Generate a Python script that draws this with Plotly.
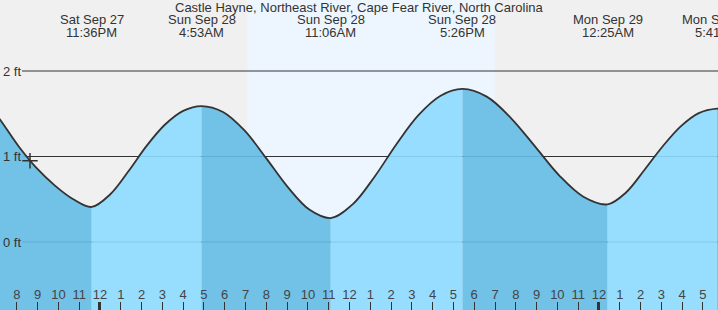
import plotly.graph_objects as go
import pandas as pd

title = "Castle Hayne, Northeast River, Cape Fear River, North Carolina"

# Tide heights (ft) at sample times along the curve
sample_times = [
    "2025-09-27 18:19", "2025-09-27 19:12", "2025-09-27 20:05", "2025-09-27 20:58",
    "2025-09-27 21:50", "2025-09-27 22:43",
    "2025-09-28 00:29", "2025-09-28 01:22", "2025-09-28 02:14", "2025-09-28 03:07",
    "2025-09-28 04:00",
    "2025-09-28 05:55", "2025-09-28 06:57", "2025-09-28 07:59", "2025-09-28 09:02",
    "2025-09-28 10:04",
    "2025-09-28 12:09", "2025-09-28 13:13", "2025-09-28 14:16", "2025-09-28 15:19",
    "2025-09-28 16:23",
    "2025-09-28 18:36", "2025-09-28 19:46", "2025-09-28 20:56", "2025-09-28 22:05",
    "2025-09-28 23:15",
    "2025-09-29 01:18", "2025-09-29 02:10", "2025-09-29 03:03", "2025-09-29 03:56",
    "2025-09-29 04:48",
    "2025-09-29 06:34",
]
sample_heights = [
    1.72, 1.43, 1.12, 0.86,
    0.66, 0.50,
    0.556, 0.827, 1.121, 1.371,
    1.534,
    1.521, 1.305, 0.984, 0.642,
    0.379,
    0.44, 0.767, 1.147, 1.484,
    1.711,
    1.70, 1.45, 1.115, 0.78,
    0.53,
    0.579, 0.836, 1.114, 1.352,
    1.507,
    1.545,
]

# High / low tides
extreme_times = ["2025-09-27 23:36", "2025-09-28 04:53", "2025-09-28 11:06",
                 "2025-09-28 17:26", "2025-09-29 00:25", "2025-09-29 05:41"]
extreme_heights = [0.41, 1.59, 0.28, 1.79, 0.44, 1.56]
extreme_days = ["Sat Sep 27", "Sun Sep 28", "Sun Sep 28", "Sun Sep 28", "Mon Sep 29", "Mon Sep 29"]
extreme_clock = ["11:36PM", "4:53AM", "11:06AM", "5:26PM", "12:25AM", "5:41AM"]
segment_falling = [True, False, True, False, True, False, True]

sunrise = "2025-09-28 07:05"
sunset = "2025-09-28 18:59"
now_time = "2025-09-27 20:38"
now_height = 0.95

tick_times = list(pd.date_range("2025-09-27 20:00", "2025-09-29 05:00", freq="h").strftime("%Y-%m-%d %H:%M"))
tick_labels = ["8", "9", "10", "11", "12", "1", "2", "3", "4", "5", "6", "7",
               "8", "9", "10", "11", "12", "1", "2", "3", "4", "5", "6", "7",
               "8", "9", "10", "11", "12", "1", "2", "3", "4", "5"]
midnights = ["2025-09-28 00:00", "2025-09-29 00:00"]
y_ticks = [0, 1, 2]
y_labels = ["0 ft", "1 ft", "2 ft"]
x_range = ["2025-09-27 19:11:26", "2025-09-29 05:43:34"]
y_range = [-0.795, 2.830]

DARK = "rgba(100,187,228,0.9)"
LIGHT = "rgba(140,218,255,0.9)"
INK = "#333333"

df = pd.DataFrame({"t": pd.to_datetime(sample_times + extreme_times),
                   "h": sample_heights + extreme_heights}).sort_values("t").reset_index(drop=True)
bounds = [df["t"].iloc[0]] + list(pd.to_datetime(extreme_times)) + [df["t"].iloc[-1]]

fig = go.Figure()
for i in range(len(bounds) - 1):
    a, b = bounds[i], bounds[i + 1]
    seg = df[(df["t"] >= a) & (df["t"] <= b)]
    fig.add_trace(go.Scatter(x=[a, b], y=[-1.5, -1.5], mode="lines", line=dict(width=0),
                             hoverinfo="skip", showlegend=False))
    fig.add_trace(go.Scatter(x=seg["t"], y=seg["h"], mode="lines", fill="tonexty",
                             fillcolor=DARK if segment_falling[i] else LIGHT,
                             line=dict(width=0, shape="spline", smoothing=1.0),
                             hoverinfo="skip", showlegend=False))

fig.add_trace(go.Scatter(x=df["t"], y=df["h"], mode="lines",
                         line=dict(color=INK, width=1.8, shape="spline", smoothing=1.0),
                         hoverinfo="skip", showlegend=False))
fig.add_trace(go.Scatter(x=[now_time], y=[now_height], mode="markers",
                         marker=dict(symbol="cross-thin", size=11, line=dict(color=INK, width=1.5)),
                         hoverinfo="skip", showlegend=False))
fig.add_trace(go.Scatter(x=midnights, y=[-1.5, -1.5], xaxis="x2", mode="markers",
                         marker=dict(opacity=0), hoverinfo="skip", showlegend=False))

shapes = [dict(type="rect", xref="x", yref="paper", x0=sunrise, x1=sunset, y0=0, y1=1,
               fillcolor="#edf6ff", line=dict(width=0), layer="below")]
for yv in y_ticks:
    shapes.append(dict(type="line", xref="paper", yref="y", x0=22 / 718, x1=1, y0=yv, y1=yv,
                       line=dict(color=INK, width=1.2), layer="below"))

annotations = [dict(text=title, xref="paper", yref="paper", x=0.5, y=1 - 7.5 / 310,
                    showarrow=False, yanchor="middle", font=dict(size=13, color=INK))]
for t, d, c in zip(extreme_times, extreme_days, extreme_clock):
    annotations.append(dict(text=d, x=t, xref="x", yref="paper", y=1 - 20 / 310,
                            showarrow=False, yanchor="middle", font=dict(size=13, color=INK)))
    annotations.append(dict(text=c, x=t, xref="x", yref="paper", y=1 - 32.5 / 310,
                            showarrow=False, yanchor="middle", font=dict(size=13, color=INK)))

fig.update_layout(
    width=718, height=310, margin=dict(l=0, r=0, t=0, b=0),
    paper_bgcolor="#f0f0f0", plot_bgcolor="#f0f0f0",
    font=dict(family="Liberation Sans, Arial, sans-serif", size=13, color=INK),
    shapes=shapes, annotations=annotations, showlegend=False,
    xaxis=dict(range=x_range, tickvals=tick_times, ticktext=tick_labels, ticks="inside",
               ticklen=8, tickwidth=1, tickcolor=INK, ticklabelposition="inside",
               showgrid=False, zeroline=False, showline=False, fixedrange=True),
    xaxis2=dict(range=x_range, overlaying="x", anchor="y", side="bottom", tickvals=midnights,
                ticks="inside", ticklen=8, tickwidth=3, tickcolor=INK, showticklabels=False,
                showgrid=False, zeroline=False, showline=False, fixedrange=True),
    yaxis=dict(range=y_range, tickvals=y_ticks, ticktext=y_labels, ticks="",
               anchor="free", position=21 / 718, side="left", ticklabelposition="outside",
               showgrid=False, zeroline=False, showline=False, fixedrange=True),
)

fig.write_html("out.html", config={"displayModeBar": False})
